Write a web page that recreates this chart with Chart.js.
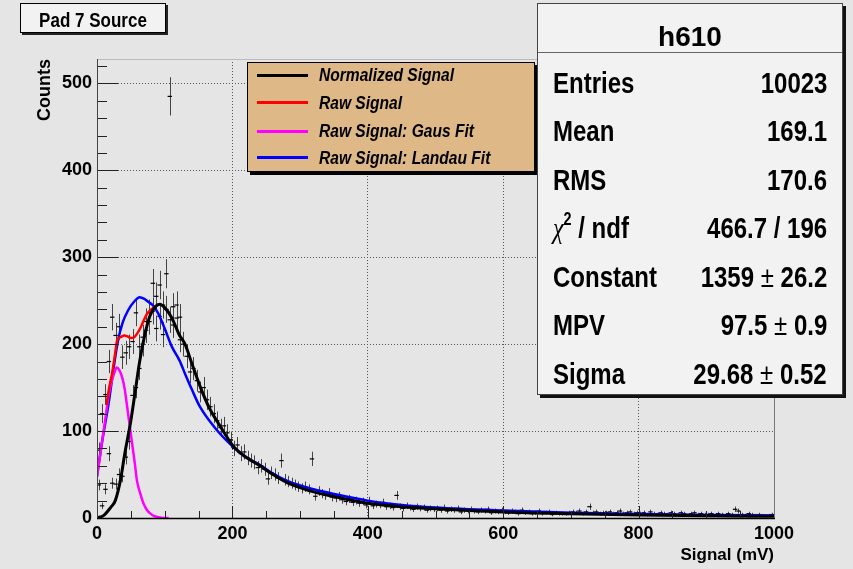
<!DOCTYPE html>
<html>
<head>
<meta charset="utf-8">
<script src="https://cdn.jsdelivr.net/npm/chart.js@4.4.1/dist/chart.umd.min.js"></script>
<style>
  body { margin: 0; background: #e5e5e5; }
  #wrap { position: relative; width: 853px; height: 569px; font-family: 'Liberation Sans', Arial, sans-serif; font-weight: bold; color: #000; }
  #c { position: absolute; left: 0; top: 0; }
  .box { position: absolute; box-sizing: border-box; border: 1px solid #000; }
  .sq { position: absolute; white-space: nowrap; }
  .lab { left: 15px; transform: scaleX(0.8); transform-origin: 0 50%; font-size: 30px; line-height: 30px; }
  .val { right: 15px; transform: scaleX(0.8); transform-origin: 100% 50%; font-size: 30px; line-height: 30px; }
  .pm { font-weight: normal; }
  .chi { font-family: 'Liberation Serif', 'DejaVu Serif', serif; font-weight: normal; font-style: italic; }
  sup { font-size: 60%; line-height: 0; vertical-align: 0.7em; }
</style>
</head>
<body>
<div id="wrap">
  <canvas id="c" width="853" height="569"></canvas>
  <div class="box" id="title" style="left:20px;top:3px;width:146px;height:30px;background:#f2f2f2;box-shadow:2px 2px 0 #222;">
    <span class="sq" style="left:0;right:0;top:5px;text-align:center;font-size:21px;line-height:21px;transform:scaleX(0.81);">Pad 7 Source</span>
  </div>
  <div class="box" id="legend" style="left:247px;top:62px;width:288px;height:110px;background:#deb887;box-shadow:3px 3px 0 #000;"></div>
  <div class="box" id="stats" style="left:537px;top:3px;width:306px;height:392px;background:#f2f2f2;border-color:#444;box-shadow:3px 3px 0 #111;"></div>
</div>
<script>
// histogram: 5 mV bins from 0 to 1000
const binWidth = 5;
const normCounts = [
  38, 14, 33, 74, 40, 39, 50, 48, 70, 88,
  141, 150, 172, 200, 226, 236, 238, 255, 232, 245,
  240, 228, 222, 245, 231, 200, 186, 168, 172, 158,
  145, 150, 136, 128, 120, 112, 104, 106, 98, 90,
  80, 84, 74, 76, 69, 66, 64, 58, 60, 56,
  45, 52, 50, 46, 66, 44, 42, 40, 38, 36,
  34, 36, 33, 68, 25, 31, 28, 26, 29, 24,
  23, 25, 21, 19, 22, 18, 20, 17, 19, 15,
  20, 14, 16, 15, 18, 13, 14, 12, 26, 13,
  11, 14, 12, 10, 13, 11, 12, 9, 11, 10,
  11, 9, 12, 8, 10, 9, 11, 7, 9, 8,
  10, 8, 7, 9, 8, 10, 6, 8, 7, 9,
  7, 6, 8, 7, 5, 9, 6, 7, 5, 6,
  8, 5, 6, 7, 4, 6, 5, 5, 5, 6,
  7, 6, 8, 5, 7, 13, 6, 7, 5, 6,
  6, 7, 5, 6, 8, 5, 6, 7, 5, 6,
  5, 6, 4, 7, 5, 4, 6, 5, 4, 6,
  5, 4, 6, 5, 3, 5, 6, 4, 5, 4,
  4, 5, 3, 5, 4, 3, 5, 4, 10, 8,
  4, 3, 5, 4, 3, 4, 3, 2, 3, 4
];
const rawCounts = [
  78, 120, 142, 180, 231, 210, 220, 185, 190, 197,
  203, 236, 197, 208, 216, 226, 270, 218, 268, 211,
  281, 485, 243, 230, 205
];

// fitted / drawn curves
const normCurveX = [0, 10, 20, 27, 35, 41, 50, 56, 63, 71, 78, 86, 93, 100, 110, 122, 130, 140, 152, 165, 180, 201, 220, 241, 260, 280, 300, 320, 354, 400, 450, 500, 600, 700, 800, 900, 1000];
const normCurveY = [0, 3, 12, 20, 45, 74, 112, 143, 180, 212, 232, 243, 246, 242, 231, 210, 200, 178, 152, 128, 108, 83, 70, 60, 50, 41, 35, 30, 24, 17, 13, 10.5, 7, 5, 3.5, 2.5, 2];
const rawCurveX = [14, 18, 22, 26, 30, 35, 40, 45, 50, 55, 60, 65, 70, 75, 80, 86, 91];
const rawCurveY = [130, 150, 165, 185, 205, 208, 210, 209, 207, 208, 213, 220, 229, 236, 240, 243, 246];
const gausCurveX = [0, 6, 12, 17, 22, 26, 29, 33, 37, 41, 44, 48, 52, 56, 59, 64, 69, 74, 79, 85, 91, 100, 106];
const gausCurveY = [47, 80, 112, 140, 158, 168, 173, 170, 162, 148, 131, 108, 85, 62, 43, 28, 16, 9, 5, 2, 1, 0, 0];
const landauCurveX = [0, 8, 17, 25, 31, 38, 46, 55, 63, 70, 75, 82, 90, 100, 110, 122, 130, 140, 152, 175, 201, 220, 241, 260, 280, 320, 354, 400, 450, 500, 600, 700, 800, 900, 1000];
const landauCurveY = [48, 90, 131, 175, 204, 225, 239, 249, 254, 252, 249, 245, 236, 218, 198, 181, 166, 148, 128, 103, 82, 70, 61, 51, 43, 33, 27, 20, 15, 12, 8.5, 6, 4.5, 3.5, 3];

const legendLabels = ['Normalized Signal', 'Raw Signal', 'Raw Signal: Gaus Fit', 'Raw Signal: Landau Fit'];
const legendColors = ['#000000', '#ff0000', '#ff00ff', '#0000ff'];

const statsTitle = 'h610';
const statLabels = ['Entries', 'Mean', 'RMS', 'χ2 / ndf', 'Constant', 'MPV', 'Sigma'];
const statValues = ['10023', '169.1', '170.6', '466.7 / 196', '1359 ± 26.2', '97.5 ± 0.9', '29.68 ± 0.52'];

const FONT = "'Liberation Sans', Arial, sans-serif";

function pts(xs, ys) { return xs.map((x, i) => ({ x: x, y: ys[i] })); }
function hist(counts) { return counts.map((v, i) => ({ x: binWidth * (i + 0.5), y: v })); }

function curve(i, xs, ys, w) {
  return {
    label: legendLabels[i], data: pts(xs, ys), showLine: true,
    borderColor: legendColors[i], backgroundColor: legendColors[i], borderWidth: w,
    pointRadius: 0, cubicInterpolationMode: 'monotone'
  };
}
function histSet(label, counts) {
  return {
    label: label, data: hist(counts), errorBars: true, showLine: false,
    pointStyle: 'line', pointRadius: 2.2, pointBorderWidth: 1.2,
    pointBorderColor: '#000', pointBackgroundColor: '#000'
  };
}

// error bars behind everything, ROOT-like frame and inward ticks on top
const rootStyle = {
  id: 'rootStyle',
  beforeDatasetsDraw(chart) {
    const { ctx, chartArea: a } = chart;
    const ys = chart.scales.y;
    ctx.save();
    ctx.beginPath(); ctx.rect(a.left, a.top, a.right - a.left, a.bottom - a.top); ctx.clip();
    ctx.strokeStyle = '#444'; ctx.lineWidth = 1;
    ctx.beginPath();
    chart.data.datasets.forEach((ds, i) => {
      if (!ds.errorBars) return;
      chart.getDatasetMeta(i).data.forEach((p, j) => {
        const v = ds.data[j].y, e = Math.sqrt(v);
        const x = Math.round(p.x) + 0.5;
        ctx.moveTo(x, ys.getPixelForValue(v + e));
        ctx.lineTo(x, ys.getPixelForValue(v - e));
      });
    });
    ctx.stroke();
    ctx.restore();
  },
  afterDatasetsDraw(chart) {
    const { ctx, chartArea: a } = chart;
    const xs = chart.scales.x, ys = chart.scales.y;
    ctx.save();
    ctx.lineWidth = 1;
    ctx.strokeStyle = '#222';
    ctx.beginPath();
    for (let v = 0; v <= ys.max; v += 20) {
      const y = Math.round(ys.getPixelForValue(v)) + 0.5;
      ctx.moveTo(a.left, y); ctx.lineTo(a.left + (v % 100 === 0 ? 21 : 10), y);
    }
    for (let v = 0; v <= xs.max; v += 50) {
      const x = Math.round(xs.getPixelForValue(v)) + 0.5;
      ctx.moveTo(x, a.bottom); ctx.lineTo(x, a.bottom - (v % 200 === 0 ? 12 : 7));
    }
    ctx.stroke();
    ctx.strokeStyle = '#bbb';
    ctx.beginPath(); ctx.moveTo(a.left, a.top + 0.5); ctx.lineTo(a.right, a.top + 0.5); ctx.stroke();
    ctx.strokeStyle = '#777';
    ctx.beginPath(); ctx.moveTo(a.right + 0.5, a.top); ctx.lineTo(a.right + 0.5, a.bottom); ctx.stroke();
    ctx.strokeStyle = '#444';
    ctx.beginPath(); ctx.moveTo(a.left + 0.5, a.top); ctx.lineTo(a.left + 0.5, a.bottom); ctx.stroke();
    ctx.strokeStyle = '#000'; ctx.lineWidth = 1.5;
    ctx.beginPath(); ctx.moveTo(a.left, a.bottom + 0.5); ctx.lineTo(a.right + 1, a.bottom + 0.5); ctx.stroke();
    ctx.restore();
  }
};

const tickFont = { family: FONT, size: 18, weight: 'bold' };
const plainNumber = function(v) { return String(v); };

const chart = new Chart(document.getElementById('c'), {
  type: 'scatter',
  data: {
    datasets: [
      curve(0, normCurveX, normCurveY, 3),
      curve(1, rawCurveX, rawCurveY, 2.5),
      curve(2, gausCurveX, gausCurveY, 2.5),
      curve(3, landauCurveX, landauCurveY, 2.5),
      histSet('Normalized data', normCounts),
      histSet('Raw data', rawCounts)
    ]
  },
  options: {
    responsive: false,
    animation: false,
    devicePixelRatio: 1,
    layout: { padding: { left: 0, top: 59, right: 79, bottom: 0 } },
    plugins: { legend: { display: false }, tooltip: { enabled: false } },
    scales: {
      x: {
        type: 'linear', min: 0, max: 1000,
        afterFit: function(s) { s.height = 51; },
        ticks: { stepSize: 200, padding: 5, color: '#000', font: tickFont, includeBounds: false, callback: plainNumber },
        grid: { color: '#555', lineWidth: 1, drawTicks: false },
        border: { display: false, dash: [1, 2] },
        title: { display: true, text: 'Signal (mV)', align: 'end', color: '#000', font: { family: FONT, size: 17, weight: 'bold' }, padding: { top: 0, bottom: 3 } }
      },
      y: {
        type: 'linear', min: 0, max: 528,
        afterFit: function(s) { s.width = 97; },
        ticks: { stepSize: 100, padding: 5, color: '#000', font: tickFont, includeBounds: false, callback: plainNumber },
        grid: { color: '#555', lineWidth: 1, drawTicks: false },
        border: { display: false, dash: [1, 2] },
        title: { display: true, text: 'Counts', align: 'end', color: '#000', font: { family: FONT, size: 18, weight: 'bold' }, padding: { top: 34, bottom: 0 } }
      }
    }
  },
  plugins: [rootStyle]
});

// legend box (from the curve datasets)
const legendCenters = [12, 39.7, 68, 94.7];
const legend = document.getElementById('legend');
chart.data.datasets.slice(0, 4).forEach((ds, i) => {
  const line = document.createElement('div');
  line.style.cssText = 'position:absolute;left:9px;width:51px;height:3px;top:' + (legendCenters[i] - 1.5) + 'px;background:' + ds.borderColor;
  legend.appendChild(line);
  const t = document.createElement('span');
  t.className = 'sq';
  t.textContent = ds.label;
  t.style.cssText = 'left:71px;top:' + (legendCenters[i] - 10) + 'px;font-size:19px;line-height:20px;font-style:italic;transform:scaleX(0.82);transform-origin:0 50%;';
  legend.appendChild(t);
});

// stats box
const stats = document.getElementById('stats');
const head = document.createElement('span');
head.className = 'sq';
head.textContent = statsTitle;
head.style.cssText = 'left:0;right:0;text-align:center;top:19px;font-size:28px;line-height:28px;';
stats.appendChild(head);
const sep = document.createElement('div');
sep.style.cssText = 'position:absolute;left:0;right:0;top:48px;height:1px;background:#666;';
stats.appendChild(sep);
const statTops = [64, 112, 161, 209, 258, 306, 355];
statLabels.forEach((lab, i) => {
  const l = document.createElement('span');
  l.className = 'sq lab';
  l.style.top = statTops[i] + 'px';
  if (lab.indexOf('χ') === 0) {
    l.innerHTML = '<span class="chi">χ</span><sup>2</sup>' + lab.slice(2);
  } else {
    l.textContent = lab;
  }
  stats.appendChild(l);
  const v = document.createElement('span');
  v.className = 'sq val';
  v.style.top = statTops[i] + 'px';
  v.innerHTML = statValues[i].replace('±', '<span class="pm">±</span>');
  stats.appendChild(v);
});
</script>
</body>
</html>
